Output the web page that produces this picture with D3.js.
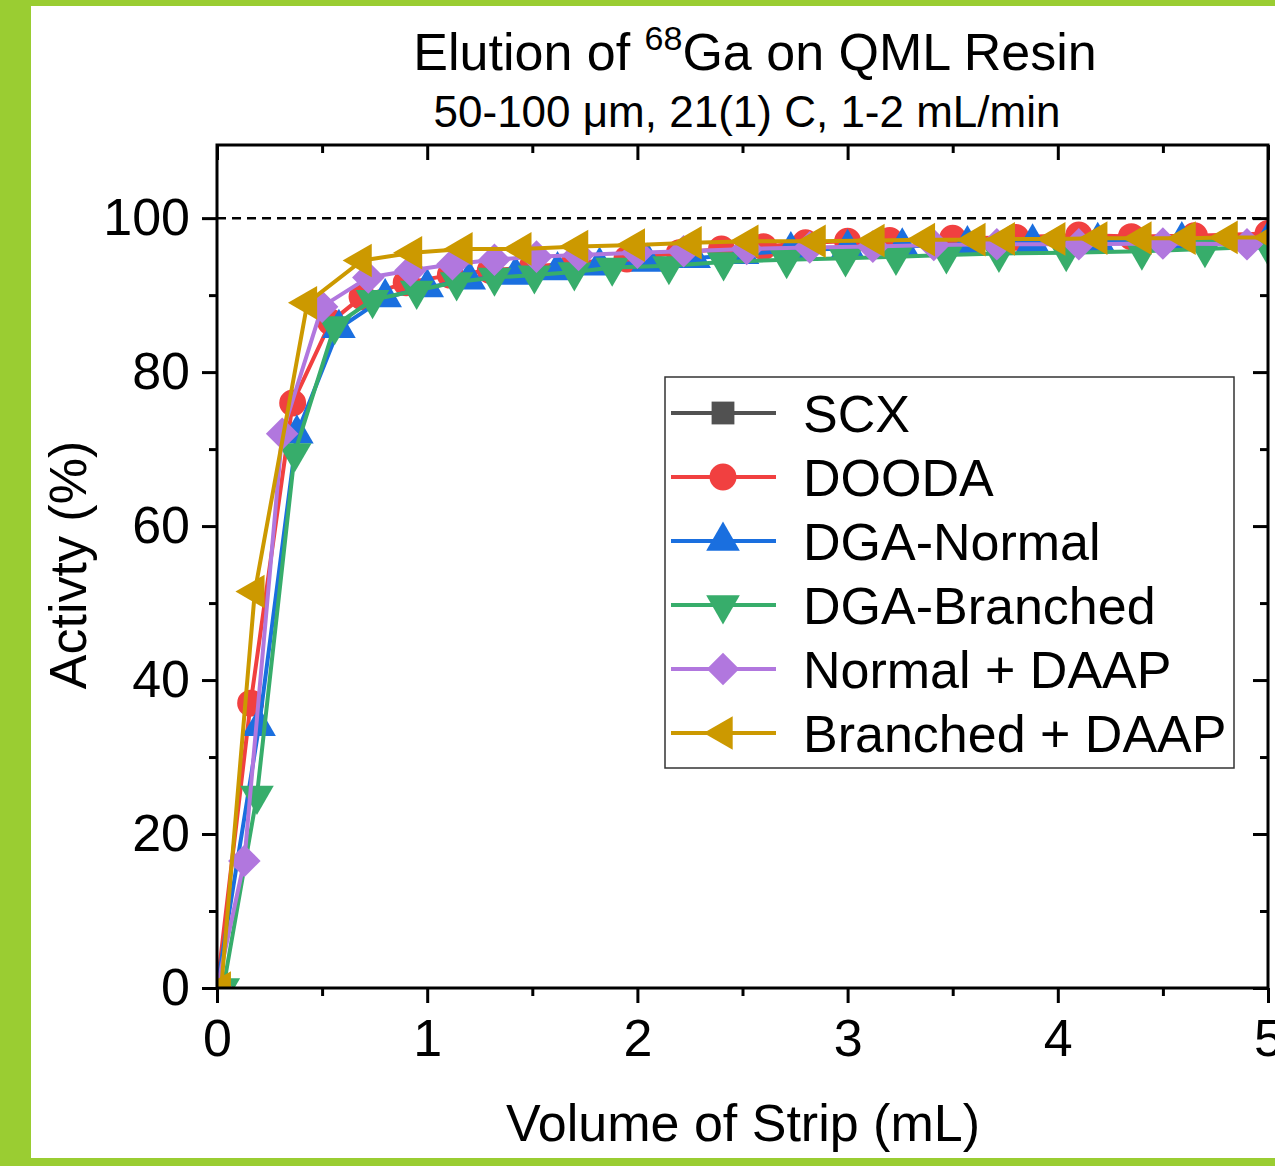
<!DOCTYPE html>
<html lang="en">
<head>
  <meta charset="UTF-8">
  <title>Elution of 68Ga on QML Resin</title>
  <script src="https://cdn.jsdelivr.net/npm/d3@7"></script>
  <style>
    body { margin: 0; background: #fff; }
    svg { display: block; font-family: "Liberation Sans", Arial, sans-serif; }
  </style>
</head>

<body>
  <script>
    // Series names, in legend order
    const seriesNames = ["SCX", "DOODA", "DGA-Normal", "DGA-Branched", "Normal + DAAP", "Branched + DAAP"];

    // SCX is only in the legend, no points visible on the chart
    const scxX = [];
    const scxY = [];

    const doodaX = [0, 0.16, 0.36, 0.54, 0.69, 0.9, 1.11, 1.3, 1.5, 1.7, 1.95, 2.2, 2.4, 2.6, 2.8, 3.0, 3.2, 3.5, 3.8, 4.1, 4.35, 4.65, 5.0];
    const doodaY = [0, 37, 76, 86.5, 89.8, 91.6, 92.6, 93.2, 93.7, 94.2, 94.7, 95.5, 96, 96.3, 96.8, 97, 97.1, 97.4, 97.5, 97.8, 97.6, 97.7, 98];

    const dgaNormalX = [0, 0.2, 0.38, 0.58, 0.8, 1.0, 1.2, 1.42, 1.62, 1.82, 2.05, 2.27, 2.5, 2.73, 3.0, 3.26, 3.57, 3.88, 4.19, 4.59, 5.0];
    const dgaNormalY = [0, 34, 72, 85.7, 89.7, 91, 92, 92.6, 93.2, 93.8, 94.3, 94.8, 95.3, 95.8, 96.1, 96.3, 96.6, 96.8, 97.0, 97.1, 97.2];

    const dgaBranchedX = [0.03, 0.19, 0.37, 0.56, 0.74, 0.95, 1.14, 1.32, 1.51, 1.7, 1.88, 2.15, 2.41, 2.71, 2.99, 3.23, 3.47, 3.72, 4.04, 4.4, 4.7, 5.0];
    const dgaBranchedY = [0, 25, 69.5, 86, 89.4, 90.6, 91.7, 92.3, 92.6, 93, 93.6, 93.8, 94.3, 94.6, 94.8, 95, 95.2, 95.4, 95.5, 95.7, 96, 96.3];

    const normalDaapX = [0, 0.13, 0.31, 0.5, 0.72, 0.92, 1.12, 1.32, 1.52, 1.72, 2.0, 2.22, 2.52, 2.82, 3.12, 3.41, 3.71, 4.1, 4.5, 4.9];
    const normalDaapY = [0, 16.5, 72, 88.5, 92.3, 93.2, 94, 94.6, 95, 95.2, 95.5, 95.7, 96, 96.2, 96.3, 96.5, 96.6, 96.6, 96.7, 96.6];

    const branchedDaapX = [0.02, 0.18, 0.43, 0.69, 0.93, 1.17, 1.45, 1.72, 1.99, 2.26, 2.53, 2.85, 3.13, 3.37, 3.61, 3.75, 3.99, 4.19, 4.4, 4.61, 4.81, 5.02];
    const branchedDaapY = [0, 51.5, 89, 94.5, 95.5, 96, 96, 96.3, 96.5, 96.8, 97, 97, 97.1, 97.2, 97.2, 97.3, 97.3, 97.4, 97.4, 97.4, 97.5, 97.5];

    // Tick values
    const xTicks = [0, 1, 2, 3, 4, 5];
    const xMinorTicks = [0.5, 1.5, 2.5, 3.5, 4.5];
    const yTicks = [0, 20, 40, 60, 80, 100];
    const yMinorTicks = [10, 30, 50, 70, 90];

    // Build series list from the arrays above
    const seriesX = [scxX, doodaX, dgaNormalX, dgaBranchedX, normalDaapX, branchedDaapX];
    const seriesY = [scxY, doodaY, dgaNormalY, dgaBranchedY, normalDaapY, branchedDaapY];
    const colors = ["#515151", "#F14040", "#1A6FDF", "#37AD6B", "#B177DE", "#CC9900"];
    const symbols = [
      { type: d3.symbolSquare, size: 520, rotate: 0 },
      { type: d3.symbolCircle, size: 570, rotate: 0 },
      { type: d3.symbolTriangle, size: 490, rotate: 0 },
      { type: d3.symbolTriangle, size: 490, rotate: 180 },
      { type: d3.symbolSquare, size: 530, rotate: 45 },
      { type: d3.symbolTriangle, size: 490, rotate: -90 }
    ];
    const series = seriesNames.map((name, i) => ({
      name: name,
      color: colors[i],
      symbol: symbols[i],
      points: seriesX[i].map((x, j) => ({ x: x, y: seriesY[i][j] }))
    }));

    const W = 1275, H = 1166;
    const pLeft = 217, pRight = 1268, pTop = 145, pBottom = 988;

    // Create the SVG canvas
    const svg = d3.select("body").append("svg")
      .attr("width", W)
      .attr("height", H);

    svg.append("rect").attr("width", W).attr("height", H).attr("fill", "#fff");

    // Green frame (left, top, bottom)
    svg.append("rect").attr("x", 0).attr("y", 0).attr("width", 31).attr("height", H).attr("fill", "#9acd32");
    svg.append("rect").attr("x", 0).attr("y", 0).attr("width", W).attr("height", 6).attr("fill", "#9acd32");
    svg.append("rect").attr("x", 0).attr("y", 1158).attr("width", W).attr("height", 8).attr("fill", "#9acd32");

    // Scales
    const x = d3.scaleLinear().domain([0, 5]).range([pLeft, pRight]);
    const y = d3.scaleLinear().domain([0, 109.5]).range([pBottom, pTop]);

    // Clip for data
    svg.append("clipPath").attr("id", "plotClip")
      .append("rect")
      .attr("x", pLeft).attr("y", pTop)
      .attr("width", pRight - pLeft).attr("height", pBottom - pTop);

    // Dashed reference line at 100%
    svg.append("line")
      .attr("x1", pLeft).attr("x2", pRight)
      .attr("y1", y(100)).attr("y2", y(100))
      .attr("stroke", "#000")
      .attr("stroke-width", 2.5)
      .attr("stroke-dasharray", "9,6");

    // Series: line then markers
    const plot = svg.append("g").attr("clip-path", "url(#plotClip)");
    const line = d3.line().x(d => x(d.x)).y(d => y(d.y));

    series.forEach(s => {
      const g = plot.append("g");
      g.append("path")
        .datum(s.points)
        .attr("fill", "none")
        .attr("stroke", s.color)
        .attr("stroke-width", 4)
        .attr("stroke-linejoin", "round")
        .attr("d", line);
      g.selectAll("path.marker")
        .data(s.points)
        .enter()
        .append("path")
        .attr("class", "marker")
        .attr("d", d3.symbol().type(s.symbol.type).size(s.symbol.size))
        .attr("transform", d => `translate(${x(d.x)},${y(d.y)}) rotate(${s.symbol.rotate})`)
        .attr("fill", s.color);
    });

    // Axes
    const axisStyle = g => {
      g.select(".domain").remove();
      g.selectAll("line").attr("stroke", "#000").attr("stroke-width", 3);
      g.selectAll("text").attr("fill", "#000").style("font-size", "52px");
    };

    // bottom axis, outward ticks
    svg.append("g")
      .attr("transform", `translate(0,${pBottom})`)
      .call(d3.axisBottom(x).tickValues(xMinorTicks).tickSize(8).tickFormat(""))
      .call(axisStyle);
    svg.append("g")
      .attr("transform", `translate(0,${pBottom})`)
      .call(d3.axisBottom(x).tickValues(xTicks).tickSize(15).tickPadding(11).tickFormat(d3.format("d")))
      .call(axisStyle)
      .selectAll("text").attr("dy", "0.8em");

    // top axis, inward ticks
    svg.append("g")
      .attr("transform", `translate(0,${pTop})`)
      .call(d3.axisBottom(x).tickValues(xMinorTicks).tickSize(8).tickFormat(""))
      .call(axisStyle);
    svg.append("g")
      .attr("transform", `translate(0,${pTop})`)
      .call(d3.axisBottom(x).tickValues(xTicks).tickSize(15).tickFormat(""))
      .call(axisStyle);

    // left axis, outward ticks
    svg.append("g")
      .attr("transform", `translate(${pLeft},0)`)
      .call(d3.axisLeft(y).tickValues(yMinorTicks).tickSize(8).tickFormat(""))
      .call(axisStyle);
    svg.append("g")
      .attr("transform", `translate(${pLeft},0)`)
      .call(d3.axisLeft(y).tickValues(yTicks).tickSize(15).tickPadding(12).tickFormat(d3.format("d")))
      .call(axisStyle);

    // right axis, inward ticks
    svg.append("g")
      .attr("transform", `translate(${pRight},0)`)
      .call(d3.axisLeft(y).tickValues(yMinorTicks).tickSize(8).tickFormat(""))
      .call(axisStyle);
    svg.append("g")
      .attr("transform", `translate(${pRight},0)`)
      .call(d3.axisLeft(y).tickValues(yTicks).tickSize(15).tickFormat(""))
      .call(axisStyle);

    // Frame lines
    svg.append("rect")
      .attr("x", pLeft).attr("y", pTop)
      .attr("width", pRight - pLeft).attr("height", pBottom - pTop)
      .attr("fill", "none")
      .attr("stroke", "#000")
      .attr("stroke-width", 3);

    // Title
    const title = svg.append("text")
      .attr("x", 755).attr("y", 70)
      .attr("text-anchor", "middle")
      .style("font-size", "52px");
    title.append("tspan").text("Elution of ");
    title.append("tspan").text("68").attr("dy", -20).style("font-size", "34px");
    title.append("tspan").text("Ga on QML Resin").attr("dy", 20);

    svg.append("text")
      .attr("x", 747).attr("y", 127)
      .attr("text-anchor", "middle")
      .style("font-size", "44px")
      .text("50-100 \u03bcm, 21(1) C, 1-2 mL/min");

    // Axis labels
    svg.append("text")
      .attr("x", 743).attr("y", 1141)
      .attr("text-anchor", "middle")
      .style("font-size", "52px")
      .text("Volume of Strip (mL)");

    svg.append("text")
      .attr("transform", "translate(86,565) rotate(-90)")
      .attr("text-anchor", "middle")
      .style("font-size", "52px")
      .text("Activty (%)");

    // Legend
    const legend = svg.append("g");
    legend.append("rect")
      .attr("x", 665).attr("y", 377)
      .attr("width", 569).attr("height", 391)
      .attr("fill", "#fff")
      .attr("stroke", "#333")
      .attr("stroke-width", 1.5);

    series.forEach((s, i) => {
      const cy = 413 + i * 64;
      legend.append("line")
        .attr("x1", 671).attr("x2", 776)
        .attr("y1", cy).attr("y2", cy)
        .attr("stroke", s.color)
        .attr("stroke-width", 4);
      legend.append("path")
        .attr("d", d3.symbol().type(s.symbol.type).size(s.symbol.size)())
        .attr("transform", `translate(723,${cy}) rotate(${s.symbol.rotate})`)
        .attr("fill", s.color);
      legend.append("text")
        .attr("x", 803).attr("y", cy)
        .attr("dy", "0.36em")
        .style("font-size", "52px")
        .text(s.name);
    });
  </script>
</body>
</html>
